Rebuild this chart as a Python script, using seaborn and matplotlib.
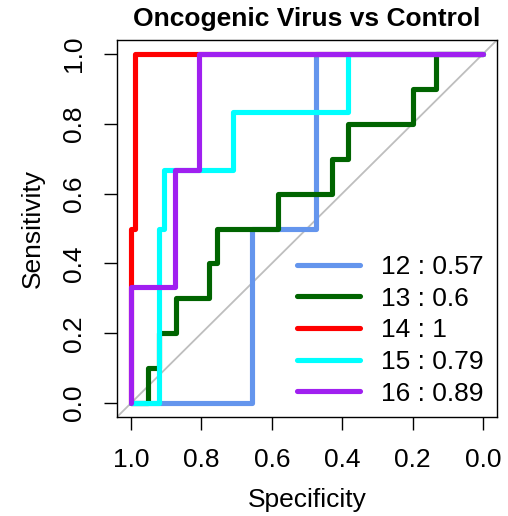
import matplotlib
matplotlib.use("Agg")
import matplotlib.pyplot as plt
import seaborn as sns
import pandas as pd

# ROC curve vertices (specificity, sensitivity) for each marker
spec_12 = [1.0, 0.657, 0.657, 0.474, 0.474, 0.0]
sens_12 = [0.0, 0.0, 0.5, 0.5, 1.0, 1.0]

spec_13 = [1.0, 0.953, 0.953, 0.922, 0.922, 0.871, 0.871, 0.779, 0.779, 0.757, 0.757,
           0.583, 0.583, 0.429, 0.429, 0.383, 0.383, 0.2, 0.2, 0.134, 0.134, 0.0]
sens_13 = [0.0, 0.0, 0.1, 0.1, 0.2, 0.2, 0.3, 0.3, 0.4, 0.4, 0.5,
           0.5, 0.6, 0.6, 0.7, 0.7, 0.8, 0.8, 0.9, 0.9, 1.0, 1.0]

spec_14 = [1.0, 1.0, 0.99, 0.99, 0.0]
sens_14 = [0.0, 0.5, 0.5, 1.0, 1.0]

spec_15 = [1.0, 0.92, 0.92, 0.907, 0.907, 0.711, 0.711, 0.383, 0.383, 0.0]
sens_15 = [0.0, 0.0, 0.5, 0.5, 0.667, 0.667, 0.833, 0.833, 1.0, 1.0]

spec_16 = [1.0, 1.0, 0.874, 0.874, 0.806, 0.806, 0.0]
sens_16 = [0.0, 0.333, 0.333, 0.667, 0.667, 1.0, 1.0]

markers = ["12", "13", "14", "15", "16"]
auc_values = ["0.57", "0.6", "1", "0.79", "0.89"]
line_colors = ["#6495ED", "#006400", "#FF0000", "#00FFFF", "#A020F0"]

x_ticks = [1.0, 0.8, 0.6, 0.4, 0.2, 0.0]
y_ticks = [0.0, 0.2, 0.4, 0.6, 0.8, 1.0]
x_tick_labels = ["1.0", "0.8", "0.6", "0.4", "0.2", "0.0"]
y_tick_labels = ["0.0", "0.2", "0.4", "0.6", "0.8", "1.0"]

curves = {
    "12": (spec_12, sens_12),
    "13": (spec_13, sens_13),
    "14": (spec_14, sens_14),
    "15": (spec_15, sens_15),
    "16": (spec_16, sens_16),
}

labels = [f"{m} : {a}" for m, a in zip(markers, auc_values)]
frames = []
for m, lab in zip(markers, labels):
    sp, se = curves[m]
    frames.append(pd.DataFrame({"Specificity": sp, "Sensitivity": se,
                                "curve": lab, "order": range(len(sp))}))
df = pd.concat(frames, ignore_index=True)

sns.set_style("ticks")
plt.rcParams["font.family"] = ["Liberation Sans", "DejaVu Sans"]
plt.rcParams["text.color"] = "black"
plt.rcParams["axes.labelcolor"] = "black"
plt.rcParams["lines.solid_capstyle"] = "round"
plt.rcParams["lines.solid_joinstyle"] = "round"
FS = 19
LW = 3.7

fig = plt.figure(figsize=(5.08, 5.16), dpi=100)
ax = fig.add_axes([117 / 508, 99 / 516, 380 / 508, 377 / 516])

# chance diagonal spanning the whole plotting region
ax.axline((1.0, 0.0), (0.0, 1.0), color="#BEBEBE", lw=1.3, zorder=1)

sns.lineplot(data=df, x="Specificity", y="Sensitivity", hue="curve",
             palette=dict(zip(labels, line_colors)), sort=False, estimator=None,
             units="curve", lw=LW, ax=ax, legend=False, zorder=2)

ax.set_xlim(1.04, -0.04)
ax.set_ylim(-0.04, 1.04)

ax.set_xticks(x_ticks)
ax.set_xticklabels(x_tick_labels, fontsize=FS)
ax.set_yticks(y_ticks)
ax.set_yticklabels(y_tick_labels, fontsize=FS, rotation=90, va="center")
ax.tick_params(axis="both", length=9.5, width=1.0, color="black",
               labelcolor="black", direction="out")
ax.tick_params(axis="x", pad=12.5)
ax.tick_params(axis="y", pad=13)

for sp in ax.spines.values():
    sp.set_visible(True)
    sp.set_color("black")
    sp.set_linewidth(1.0)

ax.set_xlabel("Specificity", fontsize=FS, va="center")
ax.set_ylabel("Sensitivity", fontsize=FS, va="center")
ax.xaxis.set_label_coords(0.5, (417 - 500) / 377)
ax.yaxis.set_label_coords((33 - 117) / 380, 0.5)

fig.text(307 / 508, 1 - 19 / 516, "Oncogenic Virus vs Control", fontsize=FS,
         fontweight="bold", ha="center", va="center", color="black")

handles = [plt.Line2D([], [], color=c, lw=LW, solid_capstyle="round") for c in line_colors]
ax.legend(handles, labels, loc="upper left",
          bbox_to_anchor=((297 - 117) / 380, (417 - 255) / 377),
          frameon=False, fontsize=FS, handlelength=2.4, handletextpad=0.8,
          labelspacing=0.29, borderpad=0, borderaxespad=0)

fig.savefig("out.png", dpi=100)
